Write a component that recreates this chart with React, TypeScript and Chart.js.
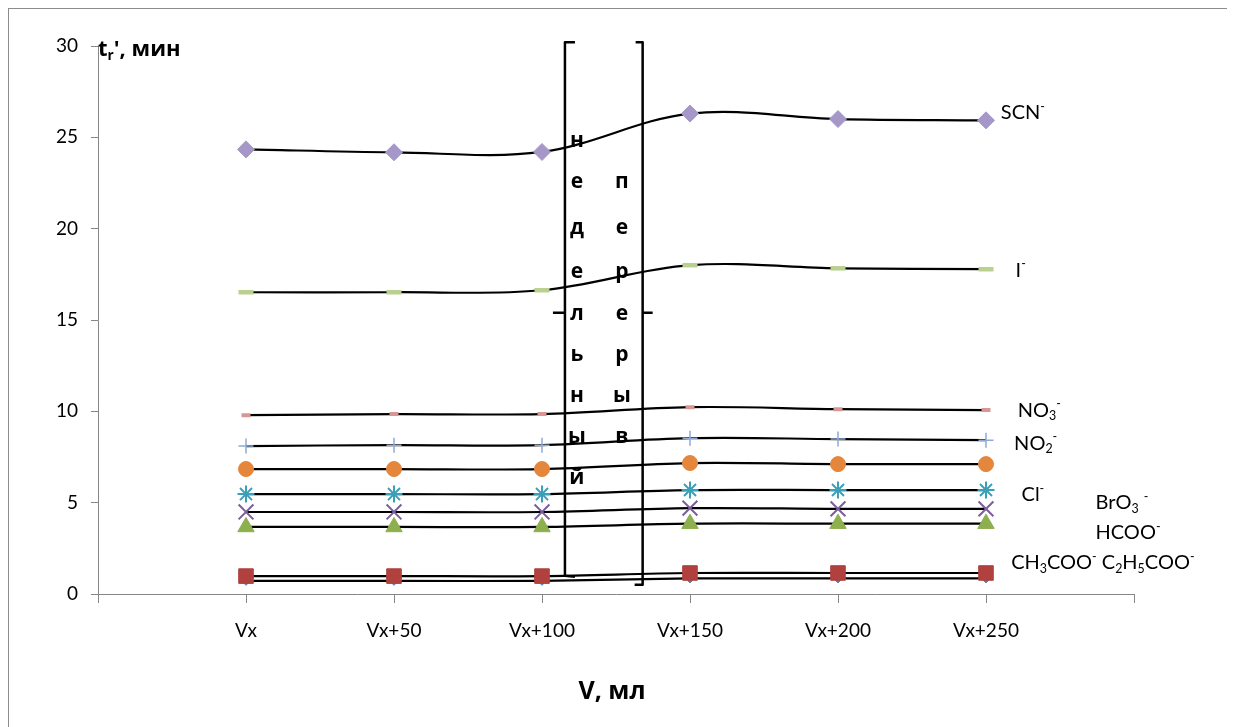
import React, { useEffect, useRef } from 'react';
import { Chart, registerables } from 'chart.js';

Chart.register(...registerables);

// ---- data ----
const categories = ['', 'Vx', 'Vx+50', 'Vx+100', 'Vx+150', 'Vx+200', 'Vx+250', ''];
const yTickStep = 5;
const yMin = 0;
const yMax = 30;

const seriesBlueDiamond = [0.72, 0.72, 0.72, 0.85, 0.85, 0.85];
const seriesRedSquare = [0.98, 0.98, 0.98, 1.15, 1.15, 1.15];
const seriesHCOO = [3.67, 3.67, 3.67, 3.85, 3.85, 3.85];
const seriesBrO3 = [4.49, 4.49, 4.49, 4.7, 4.66, 4.66];
const seriesCl = [5.47, 5.47, 5.47, 5.69, 5.69, 5.69];
const seriesOrange = [6.84, 6.84, 6.84, 7.17, 7.11, 7.11];
const seriesNO2 = [8.1, 8.15, 8.15, 8.53, 8.48, 8.42];
const seriesNO3 = [9.79, 9.85, 9.85, 10.23, 10.12, 10.07];
const seriesI = [16.52, 16.52, 16.63, 18.0, 17.83, 17.78];
const seriesSCN = [24.34, 24.18, 24.2, 26.3, 26.0, 25.93];

type Seg = [string, 'n' | 'b' | 'p'];

// ion labels: text segments, anchor category index (fractional), anchor value
const ionLabelTexts: Seg[][] = [
  [['SCN', 'n'], ['-', 'p']],
  [['I', 'n'], ['-', 'p']],
  [['NO', 'n'], ['3', 'b'], ['-', 'p']],
  [['NO', 'n'], ['2', 'b'], ['-', 'p']],
  [['Cl', 'n'], ['-', 'p']],
  [['BrO', 'n'], ['3', 'b'], [' ', 'n'], ['-', 'p']],
  [['HCOO', 'n'], ['-', 'p']],
  [['CH', 'n'], ['3', 'b'], ['COO', 'n'], ['-', 'p'], [' C', 'n'], ['2', 'b'], ['H', 'n'], ['5', 'b'], ['COO', 'n'], ['-', 'p']],
];
const ionLabelIndex = [6.1, 6.2, 6.215, 6.19, 6.24, 6.74, 6.74, 6.17];
const ionLabelValue = [26.33, 17.73, 10.07, 8.26, 5.42, 4.98, 3.34, 1.7];

const breakLeftWord = ['н', 'е', 'д', 'е', 'л', 'ь', 'н', 'ы', 'й'];
const breakRightWord = ['п', 'е', 'р', 'е', 'р', 'ы', 'в'];
const breakRowValues = [24.8, 22.55, 20.03, 17.62, 15.33, 13.08, 10.84, 8.6, 6.35];
const breakLeftColIndex = 3.236;
const breakRightColIndex = 3.54;
const bracketLeftIndex = 3.155;
const bracketRightIndex = 3.68;
const bracketTopValue = 30.2;
const bracketMidValue = 15.4;
const bracketBottomLeftValue = 1.0;
const bracketBottomRightValue = 0.5;

const yTitle: Seg[] = [['t', 'n'], ['r', 'b'], ["', мин", 'n']];
const xTitle = 'V, мл';

const FONT = 'Lato, "Open Sans", "Noto Sans", sans-serif';
const CYR = '"Open Sans", "Noto Sans", sans-serif';

function drawRich(ctx: CanvasRenderingContext2D, segs: Seg[], x: number, y: number, size: number, weight: string, family: string) {
  let cx = x;
  ctx.textBaseline = 'middle';
  ctx.textAlign = 'left';
  for (const [t, m] of segs) {
    const s = m === 'n' ? size : size * 0.62;
    ctx.font = `${weight} ${s}px ${family}`;
    const dy = m === 'b' ? size * 0.3 : m === 'p' ? -size * 0.32 : 0;
    ctx.fillText(t, cx, y + dy);
    cx += ctx.measureText(t).width;
  }
}

const annotationPlugin = {
  id: 'annotations',
  afterDraw(chart: any) {
    const { ctx, chartArea } = chart;
    const xs = chart.scales.x;
    const ys = chart.scales.y;
    ctx.save();
    ctx.fillStyle = '#000';

    // ion labels
    ionLabelTexts.forEach((segs, i) => {
      drawRich(ctx, segs, xs.getPixelForValue(ionLabelIndex[i]), ys.getPixelForValue(ionLabelValue[i]), 20, 'normal', FONT);
    });

    // axis titles
    drawRich(ctx, yTitle, chartArea.left, ys.getPixelForValue(yMax) + 4, 22, 'bold', CYR);
    ctx.font = `bold 25px ${CYR}`;
    ctx.textAlign = 'center';
    ctx.textBaseline = 'middle';
    ctx.fillText(xTitle, (chartArea.left + chartArea.right) / 2 - 4, 683);

    // break bracket
    const xl = xs.getPixelForValue(bracketLeftIndex);
    const xr = xs.getPixelForValue(bracketRightIndex);
    const yt = ys.getPixelForValue(bracketTopValue);
    const ym = ys.getPixelForValue(bracketMidValue);
    const ybl = ys.getPixelForValue(bracketBottomLeftValue);
    const ybr = ys.getPixelForValue(bracketBottomRightValue);
    ctx.strokeStyle = '#000';
    ctx.lineWidth = 2.5;
    ctx.lineJoin = 'round';
    ctx.beginPath();
    ctx.moveTo(xl + 10, yt);
    ctx.lineTo(xl, yt);
    ctx.lineTo(xl, ybl);
    ctx.lineTo(xl + 10, ybl + 1);
    ctx.moveTo(xl - 12, ym);
    ctx.lineTo(xl, ym);
    ctx.moveTo(xr - 7, yt);
    ctx.lineTo(xr, yt);
    ctx.lineTo(xr, ybr);
    ctx.lineTo(xr - 8, ybr);
    ctx.moveTo(xr, ym);
    ctx.lineTo(xr + 10, ym);
    ctx.stroke();

    ctx.font = `bold 21px ${CYR}`;
    ctx.textAlign = 'center';
    ctx.textBaseline = 'middle';
    breakLeftWord.forEach((ch, i) => {
      ctx.fillText(ch, xs.getPixelForValue(breakLeftColIndex), ys.getPixelForValue(breakRowValues[i]));
    });
    breakRightWord.forEach((ch, i) => {
      ctx.fillText(ch, xs.getPixelForValue(breakRightColIndex), ys.getPixelForValue(breakRowValues[i + 1]));
    });
    ctx.restore();
  },
};

const pad = (arr: number[]) => [null, ...arr, null];

export default function App() {
  const ref = useRef<HTMLCanvasElement>(null);
  useEffect(() => {
    document.body.style.overflow = 'hidden';
    const canvas = ref.current!;
    const mk = (data: number[], color: string, style: string, radius: number, bw: number) => ({
      data: pad(data),
      borderColor: '#000',
      borderWidth: 2.2,
      tension: 0.35,
      pointStyle: style,
      pointRadius: radius,
      pointBackgroundColor: color,
      pointBorderColor: color,
      pointBorderWidth: bw,
      fill: false,
    });
    // Excel order: series 1 drawn first; Chart.js draws lower-order datasets on top
    const list = [
      mk(seriesBlueDiamond, '#4F81BD', 'rectRot', 4.5, 1),
      mk(seriesRedSquare, '#B0413E', 'rect', 10.3, 1),
      mk(seriesHCOO, '#8DAF4E', 'triangle', 9.5, 1),
      mk(seriesBrO3, '#7A5E9E', 'crossRot', 10.5, 2),
      mk(seriesCl, '#3C9FB8', 'star', 8.5, 2),
      mk(seriesOrange, '#E4863C', 'circle', 7.5, 1),
      mk(seriesNO2, '#8FAAD3', 'cross', 7.5, 1.5),
      mk(seriesNO3, '#D99694', 'line', 4.5, 4),
      mk(seriesI, '#B9D08F', 'line', 7.5, 4.5),
      mk(seriesSCN, '#A598C8', 'rectRot', 8.5, 1),
    ];
    const datasets = list.map((d, i) => ({ ...d, order: list.length - i }));

    const chart = new Chart(canvas, {
      type: 'line',
      data: { labels: categories, datasets: datasets as any },
      plugins: [annotationPlugin],
      options: {
        responsive: false,
        animation: false,
        layout: { padding: { top: 37, right: 93, left: 0, bottom: 0 } },
        plugins: { legend: { display: false }, tooltip: { enabled: false } },
        scales: {
          x: {
            type: 'category',
            offset: false,
            grid: { display: true, drawOnChartArea: false, drawTicks: true, tickLength: 9, color: '#868686', lineWidth: 1 },
            border: { display: true, color: '#868686', width: 1 },
            ticks: { autoSkip: false, maxRotation: 0, minRotation: 0, font: { family: FONT, size: 19 }, color: '#000', padding: 16 },
            afterFit: (s: any) => { s.height = 133; },
          },
          y: {
            min: yMin,
            max: yMax,
            grid: { display: true, drawOnChartArea: false, drawTicks: true, tickLength: 7, color: '#868686', lineWidth: 1 },
            border: { display: true, color: '#868686', width: 1 },
            ticks: { stepSize: yTickStep, font: { family: FONT, size: 19 }, color: '#000', padding: 13 },
            afterFit: (s: any) => { s.width = 89; },
          },
        },
      } as any,
    });
    return () => chart.destroy();
  }, []);
  return (
    <div
      style={{
        width: 1219,
        height: 719,
        boxSizing: 'border-box',
        borderLeft: '1px solid #8c8c8c',
        borderTop: '1px solid #8c8c8c',
        background: '#fff',
      }}
    >
      <canvas ref={ref} width={1218} height={718} style={{ display: 'block' }} />
    </div>
  );
}
